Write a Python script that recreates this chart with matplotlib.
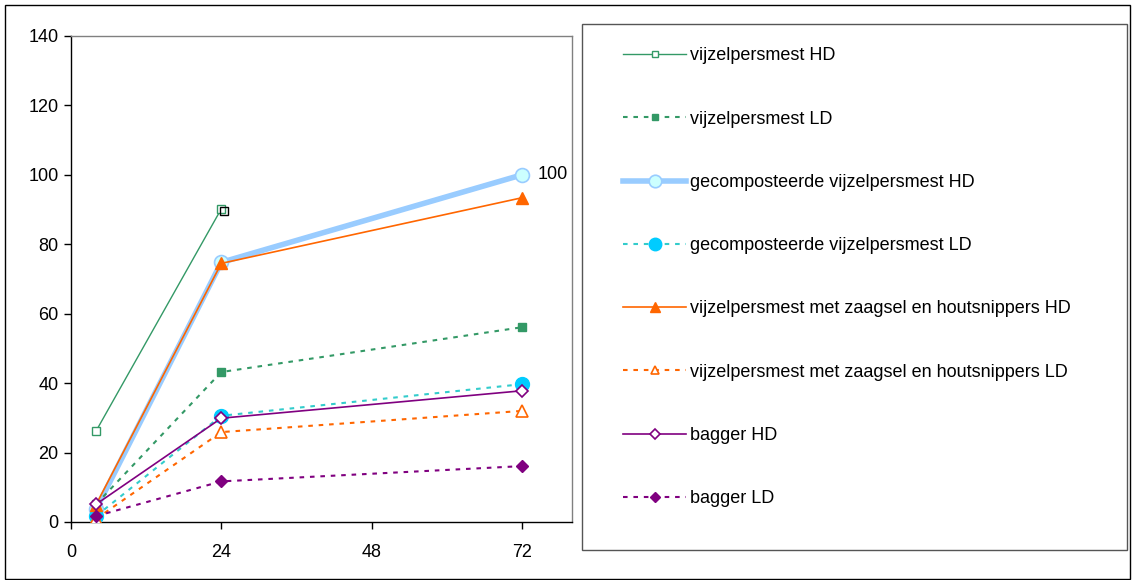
import matplotlib.pyplot as plt
from matplotlib.patches import Rectangle

plt.rcParams['font.family'] = ['Liberation Sans', 'DejaVu Sans']

# tijdstippen (uur)
uren = [4, 24, 72]
uren_kort = [4, 24]

vijzel_hd = [26.2, 90.2]
vijzel_ld = [5.1, 43.2, 56.1]
gecomp_hd = [3.7, 74.8, 100.0]
gecomp_ld = [1.7, 30.6, 39.7]
zaagsel_hd = [5.0, 74.5, 93.4]
zaagsel_ld = [0.9, 25.9, 32.0]
bagger_hd = [5.1, 29.9, 37.8]
bagger_ld = [1.7, 11.7, 16.1]

# losse zwarte marker bij 24 uur
extra_x = [24.4]
extra_y = [89.5]

x_ticks = [0, 24, 48, 72]
y_ticks = [0, 20, 40, 60, 80, 100, 120, 140]

fig = plt.figure(figsize=(11.33, 5.8), dpi=100)
W, H = 1133, 580
ax = fig.add_axes([71 / W, 1 - 522 / H, (572 - 71) / W, (522 - 36) / H])

dash = (0, (2.2, 2.8))
ax.plot(uren_kort, vijzel_hd, color='#339966', lw=1, marker='s', ms=6,
        mfc='white', mec='#339966', mew=1, label='vijzelpersmest HD', zorder=3)
ax.plot(extra_x, extra_y, ls='none', marker='s', ms=6, mfc='none', mec='black',
        mew=1, zorder=3)
ax.plot(uren, vijzel_ld, color='#339966', lw=1.5, ls=dash, marker='s', ms=6,
        mfc='#339966', mec='#339966', label='vijzelpersmest LD', zorder=3)
ax.plot(uren, gecomp_hd, color='#99CCFF', lw=4, marker='o', ms=10,
        mfc='#CCFFFF', mec='#99CCFF', mew=1.2, label='gecomposteerde vijzelpersmest HD', zorder=2)
ax.plot(uren, gecomp_ld, color='#33CCCC', lw=1.5, ls=dash, marker='o', ms=10,
        mfc='#00CCFF', mec='#00CCFF', label='gecomposteerde vijzelpersmest LD', zorder=3)
ax.plot(uren, zaagsel_hd, color='#FF6600', lw=1.2, marker='^', ms=8,
        mfc='#FF6600', mec='#FF6600', label='vijzelpersmest met zaagsel en houtsnippers HD', zorder=3)
ax.plot(uren, zaagsel_ld, color='#FF6600', lw=1.5, ls=dash, marker='^', ms=8,
        mfc='white', mec='#FF6600', mew=1.2, label='vijzelpersmest met zaagsel en houtsnippers LD', zorder=3)
ax.plot(uren, bagger_hd, color='#800080', lw=1.2, marker='D', ms=6,
        mfc='white', mec='#800080', mew=1.2, label='bagger HD', zorder=4)
ax.plot(uren, bagger_ld, color='#800080', lw=1.5, ls=dash, marker='D', ms=6,
        mfc='#800080', mec='#800080', label='bagger LD', zorder=4)

ax.annotate(f'{gecomp_hd[-1]:.0f}', (uren[-1], gecomp_hd[-1]), xytext=(11, 0),
            textcoords='offset points', va='center', ha='left', fontsize=13)

ax.set_xlim(0, 80)
ax.set_ylim(0, 140)
ax.set_xticks(x_ticks)
ax.set_yticks(y_ticks)
ax.tick_params(labelsize=13, length=5, width=1, direction='out', pad=4)
ax.tick_params(axis='x', pad=11)
for s in ['top', 'right']:
    ax.spines[s].set_color('#808080')
    ax.spines[s].set_linewidth(1)
for s in ['left', 'bottom']:
    ax.spines[s].set_color('black')
    ax.spines[s].set_linewidth(1)

# legendakader
fig.patches.append(Rectangle((582 / W, 1 - 550 / H), (1127 - 582) / W, (550 - 24) / H,
                             transform=fig.transFigure, fill=False, ec='#555555', lw=1))
# buitenkader
fig.patches.append(Rectangle((5 / W, 1 / H), (1130 - 5) / W, (575 - 1) / H,
                             transform=fig.transFigure, fill=False, ec='black', lw=1))

h, l = ax.get_legend_handles_labels()
leg = fig.legend(h, l, loc='upper left', bbox_to_anchor=(623 / W, 1 - 47.5 / H), frameon=False,
                 fontsize=13, labelspacing=2.56, handlelength=3.5, handletextpad=0.22,
                 borderaxespad=0, borderpad=0)
for lh, ms in zip(leg.legend_handles, [4, 5, 9, 9, 7, 6, 5, 5]):
    lh.set_markersize(ms)

fig.savefig('out.png', dpi=100)
